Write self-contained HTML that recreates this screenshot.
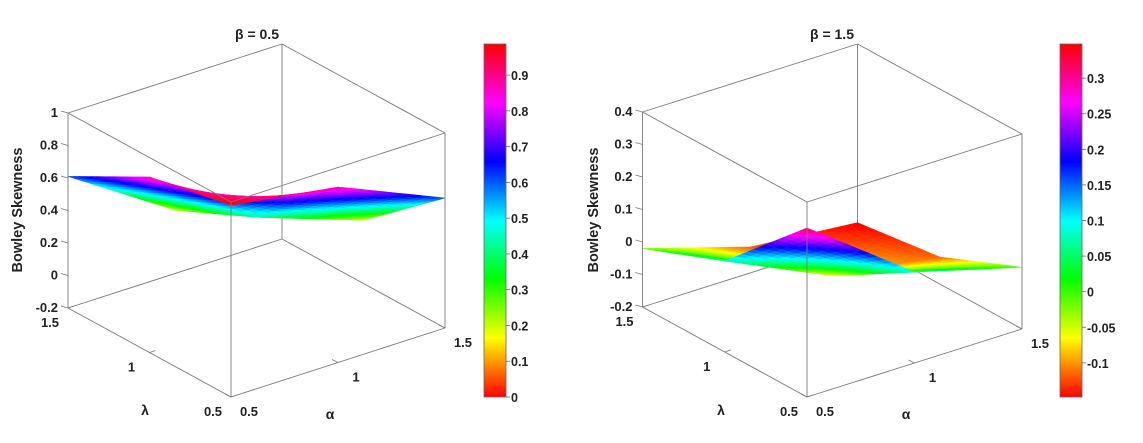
<!DOCTYPE html>
<html><head><meta charset="utf-8">
<style>
html,body{margin:0;padding:0;background:#fff;}
svg{display:block;font-family:"Liberation Sans",Arial,sans-serif;font-weight:bold;}
</style></head>
<body>
<svg id="fig" width="1143" height="443" viewBox="0 0 1143 443" xmlns="http://www.w3.org/2000/svg">
<rect x="0" y="0" width="1143" height="443" fill="#fff"/>
<defs>
<linearGradient id="hsvGrad" x1="0" y1="1" x2="0" y2="0">
<stop offset="0" stop-color="#ff0000"/><stop offset="0.1667" stop-color="#ffff00"/>
<stop offset="0.3333" stop-color="#00ff00"/><stop offset="0.5" stop-color="#00ffff"/>
<stop offset="0.6667" stop-color="#0000ff"/><stop offset="0.8333" stop-color="#ff00ff"/>
<stop offset="1" stop-color="#ff0000"/>
</linearGradient>
</defs>
</svg>
<script>
// ---- data ----
const alphaVals = [0.5, 1, 1.5];
const lambdaVals = [0.5, 1, 1.5];
// rows: lambda, cols: alpha
const zBeta05 = [[0.98, 0.88, 0.60],[0.88, 0.42, 0.19],[0.61, 0.19, 0.0]];
const zBeta15 = [[0.32, 0.08, -0.01],[0.08, -0.07, -0.117],[-0.02, -0.12, -0.15]];
const zTicks05 = [-0.2, 0, 0.2, 0.4, 0.6, 0.8, 1];
const zTicks15 = [-0.2, -0.1, 0, 0.1, 0.2, 0.3, 0.4];
const cTicks05 = [0, 0.1, 0.2, 0.3, 0.4, 0.5, 0.6, 0.7, 0.8, 0.9];
const cTicks15 = [-0.1, -0.05, 0, 0.05, 0.1, 0.15, 0.2, 0.25, 0.3];
const abTicks = [0.5, 1, 1.5];
const titles = ["β = 0.5", "β = 1.5"];

const svg = document.getElementById('fig');
const NS = "http://www.w3.org/2000/svg";
function mk(tag, attrs, parent){
  const e = document.createElementNS(NS, tag);
  for (const k in attrs) e.setAttribute(k, attrs[k]);
  (parent||svg).appendChild(e); return e;
}
function hsv(t){
  t = Math.max(0, Math.min(1, t));
  const h = t*6, i = Math.floor(h)%6, f = h - Math.floor(h);
  const q = 1-f; let r=1,g=0,b=0;
  [[1,f,0],[q,1,0],[0,1,f],[0,q,1],[f,0,1],[1,0,q]].forEach((c,k)=>{ if(k===i){r=c[0];g=c[1];b=c[2];} });
  if (t>=1){r=1;g=0;b=0;}
  return `rgb(${Math.round(r*255)},${Math.round(g*255)},${Math.round(b*255)})`;
}

function panel(cfg, Z, zTicks, cTicks, title, name){
  const G = mk('g', {});
  
  
  const zMin = zTicks[0], zMax = zTicks[zTicks.length-1];
  const P = (a, l, z) => [
    cfg.fx + (a-0.5)*cfg.ax + (l-0.5)*cfg.lx,
    cfg.fy + (a-0.5)*cfg.ay + (l-0.5)*cfg.ly - (z-zMin)/(zMax-zMin)*cfg.h
  ];
  const line = (p, q, nm, par) => {
    const e = mk('line', {x1:p[0],y1:p[1],x2:q[0],y2:q[1],stroke:'#7a7a7a','stroke-width':0.9}, par||G);
    
    
  };
  line(P(1.5,1.5,zMin), P(1.5,1.5,zMax), 'box-back-edge');
  line(P(0.5,1.5,zMin), P(1.5,1.5,zMin), 'box-back-edge');
  line(P(1.5,0.5,zMin), P(1.5,1.5,zMin), 'box-back-edge');
  line(P(0.5,1.5,zMax), P(1.5,1.5,zMax), 'box-back-edge');
  line(P(1.5,0.5,zMax), P(1.5,1.5,zMax), 'box-back-edge');
  const sg = mk('g', {}, G);
  
  
  const N = 14, polys = [];
  const na = alphaVals.length, nl = lambdaVals.length;
  const zAt = (u, v) => {
    const i = Math.min(Math.floor(u), na-2), j = Math.min(Math.floor(v), nl-2);
    const fu = u-i, fv = v-j;
    return Z[j][i]*(1-fu)*(1-fv) + Z[j][i+1]*fu*(1-fv) + Z[j+1][i]*(1-fu)*fv + Z[j+1][i+1]*fu*fv;
  };
  const valAt = (u) => { const i = Math.min(Math.floor(u), na-2); const f=u-i; return alphaVals[i]*(1-f)+alphaVals[i+1]*f; };
  const lamAt = (v) => { const j = Math.min(Math.floor(v), nl-2); const f=v-j; return lambdaVals[j]*(1-f)+lambdaVals[j+1]*f; };
  const M = (na-1)*N, K = (nl-1)*N;
  for (let s=0; s<M; s++) for (let r=0; r<K; r++){
    const u0=s/N,u1=(s+1)/N,v0=r/N,v1=(r+1)/N;
    const pts = [[u0,v0],[u1,v0],[u1,v1],[u0,v1]].map(([u,v]) => P(valAt(u), lamAt(v), zAt(u,v)));
    const zc = zAt((u0+u1)/2,(v0+v1)/2);
    const depth = valAt((u0+u1)/2) + lamAt((v0+v1)/2);
    polys.push({pts, zc, depth});
  }
  polys.sort((a,b)=>b.depth-a.depth);
  polys.forEach(p => {
    const c = hsv((p.zc-cfg.cmin)/(cfg.cmax-cfg.cmin));
    const e = mk('polygon', {points:p.pts.map(q=>q[0].toFixed(2)+','+q[1].toFixed(2)).join(' '), fill:c, stroke:c, 'stroke-width':0.6}, sg);
    
    
  });
  line(P(0.5,1.5,zMin), P(0.5,1.5,zMax), 'box-left-edge');
  line(P(0.5,0.5,zMin), P(0.5,0.5,zMax), 'box-front-edge');
  line(P(1.5,0.5,zMin), P(1.5,0.5,zMax), 'box-right-edge');
  line(P(0.5,0.5,zMin), P(0.5,1.5,zMin), 'lambda-axis');
  line(P(0.5,0.5,zMin), P(1.5,0.5,zMin), 'alpha-axis');
  line(P(0.5,0.5,zMax), P(0.5,1.5,zMax), 'box-top-edge');
  line(P(0.5,0.5,zMax), P(1.5,0.5,zMax), 'box-top-edge');
  zTicks.forEach(t => {
    const p = P(0.5,1.5,t);
    line([p[0]-7,p[1]-2], p, 'z-tick');
    const tx = mk('text', {x:p[0]-10, y:p[1]+4, 'font-size':13, 'text-anchor':'end', fill:'#222'}, G);
    tx.textContent = String(t);
    
    
  });
  abTicks.forEach(t => {
    const p = P(0.5,t,zMin);
    line(p, [p[0]+6, p[1]-2], 'lambda-tick');
    const tx = mk('text', {x:p[0]-18, y:p[1]+19, 'font-size':13, 'text-anchor':'middle', fill:'#222'}, G);
    tx.textContent = String(t);
    
    
  });
  abTicks.forEach(t => {
    const p = P(t,0.5,zMin);
    line(p, [p[0]-6, p[1]-3], 'alpha-tick');
    const tx = mk('text', {x:p[0]+18, y:p[1]+19, 'font-size':13, 'text-anchor':'middle', fill:'#222'}, G);
    tx.textContent = String(t);
    
    
  });
  const fr = P(0.5,0.5,zMin);
  let t1 = mk('text', {x:fr[0]-86, y:fr[1]+18, 'font-size':14, 'text-anchor':'middle', fill:'#222'}, G);
  t1.textContent = 'λ';
  
  
  let t2 = mk('text', {x:fr[0]+99, y:fr[1]+22, 'font-size':14, 'text-anchor':'middle', fill:'#222'}, G);
  t2.textContent = 'α';
  
  
  let t3 = mk('text', {x:cfg.zlx, y:210, 'font-size':14.5, 'text-anchor':'middle', fill:'#222', transform:`rotate(-90 ${cfg.zlx} 210)`}, G);
  t3.textContent = 'Bowley Skewness';
  
  
  let t4 = mk('text', {x:cfg.tx, y:39, 'font-size':14, 'text-anchor':'middle', fill:'#222'}, G);
  t4.textContent = title;
  
  
  const cb = mk('g', {}, G);
  
  
  const cy0 = 44, cy1 = 397;
  mk('rect', {x:cfg.cbx, y:cy0, width:22, height:cy1-cy0, fill:'url(#hsvGrad)', stroke:'#666', 'stroke-width':0.8}, cb);
  const cyOf = v => cy1 - (v-cfg.cmin)/(cfg.cmax-cfg.cmin)*(cy1-cy0);
  cTicks.forEach(t => {
    const y = cyOf(t);
    const tk = mk('line', {x1:cfg.cbx+22, y1:y, x2:cfg.cbx+26, y2:y, stroke:'#666', 'stroke-width':0.8}, cb);
    
    
    const tx = mk('text', {x:cfg.cbx+27, y:y+5, 'font-size':12.5, fill:'#222'}, cb);
    tx.textContent = String(t);
    
    
  });
}

panel({fx:231, fy:397, ax:214, ay:-69, lx:-163, ly:-89, h:195, cmin:0, cmax:0.987, cbx:484, zlx:22, tx:257},
      zBeta05, zTicks05, cTicks05, titles[0], 'panel-beta-0-5');
panel({fx:807, fy:397, ax:215, ay:-68, lx:-164.5, ly:-90, h:195, cmin:-0.148, cmax:0.348, cbx:1060, zlx:598, tx:832},
      zBeta15, zTicks15, cTicks15, titles[1], 'panel-beta-1-5');
</script>
</body></html>
